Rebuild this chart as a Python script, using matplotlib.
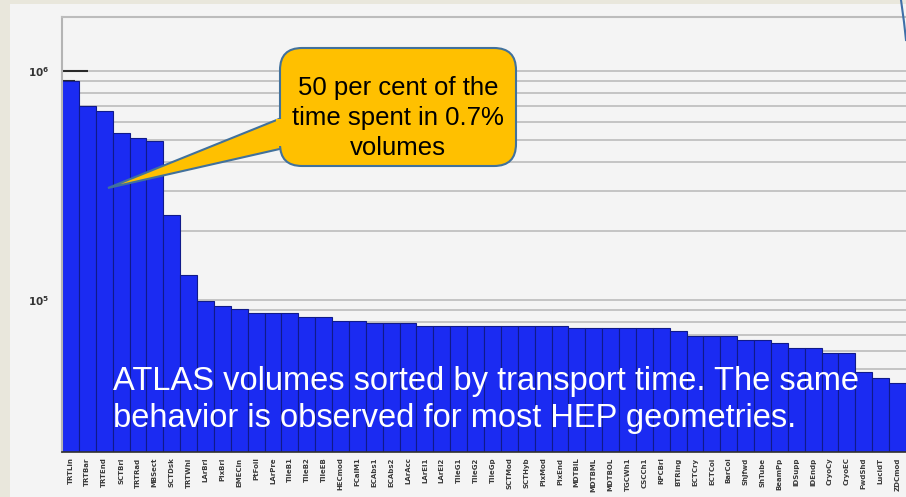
import numpy as np
import matplotlib.pyplot as plt
from matplotlib.patches import FancyBboxPatch, Polygon, Rectangle
from matplotlib.ticker import LogLocator, NullFormatter

# transport time per volume, sorted (descending)
times = [9.07e5, 7.06e5, 6.71e5, 5.38e5, 5.08e5, 4.95e5, 2.35e5, 1.29e5,
         9.93e4, 9.42e4, 9.11e4, 8.75e4, 8.75e4, 8.75e4, 8.43e4, 8.43e4,
         8.12e4, 8.12e4, 7.91e4, 7.91e4, 7.91e4, 7.72e4, 7.72e4, 7.72e4,
         7.72e4, 7.72e4, 7.72e4, 7.72e4, 7.72e4, 7.72e4, 7.57e4, 7.57e4,
         7.57e4, 7.57e4, 7.57e4, 7.57e4, 7.34e4, 6.97e4, 6.97e4, 6.97e4,
         6.69e4, 6.69e4, 6.47e4, 6.15e4, 6.15e4, 5.85e4, 5.85e4, 4.86e4,
         4.55e4, 4.35e4]

volumes = ["TRTLin", "TRTBar", "TRTEnd", "SCTBrl", "TRTRad", "MBSect",
           "SCTDsk", "TRTWhl", "LArBrl", "PixBrl", "EMECIn", "PtFoil",
           "LArPre", "TileB1", "TileB2", "TileEB", "HECmod", "FCalM1",
           "ECAbs1", "ECAbs2", "LArAcc", "LArEl1", "LArEl2", "TileG1",
           "TileG2", "TileGp", "SCTMod", "SCTHyb", "PixMod", "PixEnd",
           "MDTBIL", "MDTBML", "MDTBOL", "TGCWh1", "CSCCh1", "RPCBrl",
           "BTRing", "ECTCry", "ECTCoi", "BarCoi", "ShJfwd", "ShTube",
           "BeamPp", "IDSupp", "IDEndp", "CryoCy", "CryoEC", "FwdShd",
           "LucidT", "ZDCmod"]

labels_10 = ["50 per cent of the", "time spent in 0.7%", "volumes"]
caption = ["ATLAS volumes sorted by transport time. The same",
           "behavior is observed for most HEP geometries."]

W, H = 906, 497
fig = plt.figure(figsize=(W / 100, H / 100), dpi=100)
fig.patch.set_facecolor('#e9e7dc')

# slide panel behind the histogram
bg = fig.add_axes([0, 0, 1, 1], zorder=0)
bg.set_xlim(0, W)
bg.set_ylim(H, 0)
bg.axis('off')
bg.add_patch(Rectangle((10, 4), W - 10, H - 4, facecolor='#f4f4f4', edgecolor='none'))

# histogram axes: 17.2 px per bin, cut off at the right edge
x0, xtop, xbot = 62, 17, 452
bin_px = 17.2
nvis = (W - x0) / bin_px
ax = fig.add_axes([x0 / W, (H - xbot) / H, (W - x0) / W, (xbot - xtop) / H], zorder=1)
ax.patch.set_alpha(0)

idx = np.arange(len(times))
ax.bar(idx, times, width=1.0, align='edge', color='#1b2bf2',
       edgecolor='#101a8a', linewidth=0.8, zorder=2)
ax.set_yscale('log')
ax.set_ylim(2.17e4, 1.72e6)
ax.set_xlim(0, nvis)

ax.yaxis.set_major_locator(LogLocator(base=10))
ax.yaxis.set_minor_locator(LogLocator(base=10, subs=np.arange(2, 10)))
ax.yaxis.set_minor_formatter(NullFormatter())
ax.set_axisbelow(True)
ax.yaxis.grid(True, which='both', color='#c4c4c4', linewidth=1.4, zorder=0)

ax.tick_params(axis='y', which='major', direction='in', length=19, width=1.5,
               color='#2a2a2a', labelsize=7.5, labelcolor='#333333', pad=9)
ax.tick_params(axis='y', which='minor', direction='in', length=9, width=1.5,
               color='#2a2a2a')
for t in ax.get_yticklabels():
    t.set_fontweight('bold')

ax.set_xticks(idx + 0.5)
ax.set_xticklabels(volumes, rotation=90, fontsize=5, color='#3a3a3a',
                   fontweight='bold')
ax.set_xticks(np.arange(len(times) + 1), minor=True)
ax.tick_params(axis='x', which='major', length=0, pad=4)
ax.tick_params(axis='x', which='minor', direction='in', length=10, width=1.4,
               color='#1a1a1a')

ax.spines['left'].set_color('#b4b4b4')
ax.spines['left'].set_linewidth(1.5)
ax.spines['top'].set_color('#bcbcbc')
ax.spines['top'].set_linewidth(1.5)
ax.spines['right'].set_visible(False)
ax.spines['bottom'].set_color('#303030')
ax.spines['bottom'].set_linewidth(1.2)

# overlay: callout and caption
ov = fig.add_axes([0, 0, 1, 1], zorder=5)
ov.set_xlim(0, W)
ov.set_ylim(H, 0)
ov.axis('off')

yellow, rim = '#ffc000', '#41719c'
ov.add_patch(Polygon([(284, 117), (108, 188), (284, 148)], closed=True,
                     facecolor=yellow, edgecolor=rim, linewidth=1.5))
ov.add_patch(FancyBboxPatch((280, 48), 236, 118,
                            boxstyle='round,pad=0,rounding_size=22',
                            facecolor=yellow, edgecolor=rim, linewidth=1.5))
ov.add_patch(Rectangle((276, 119), 10, 27, facecolor=yellow, edgecolor='none'))
ov.text(398, 118, '\n'.join(labels_10), ha='center', va='center',
        fontsize=18.5, family='Liberation Sans', color='black', linespacing=1.32)

ov.text(113, 400, '\n'.join(caption), ha='left', va='center',
        fontsize=23.5, family='Liberation Sans', color='white', linespacing=1.27)

# edge of a neighbouring shape at the top right
ov.plot([901, 904, 906], [0, 22, 40], color='#3f6fa8', linewidth=1.5)

fig.savefig('out.png', dpi=100)
